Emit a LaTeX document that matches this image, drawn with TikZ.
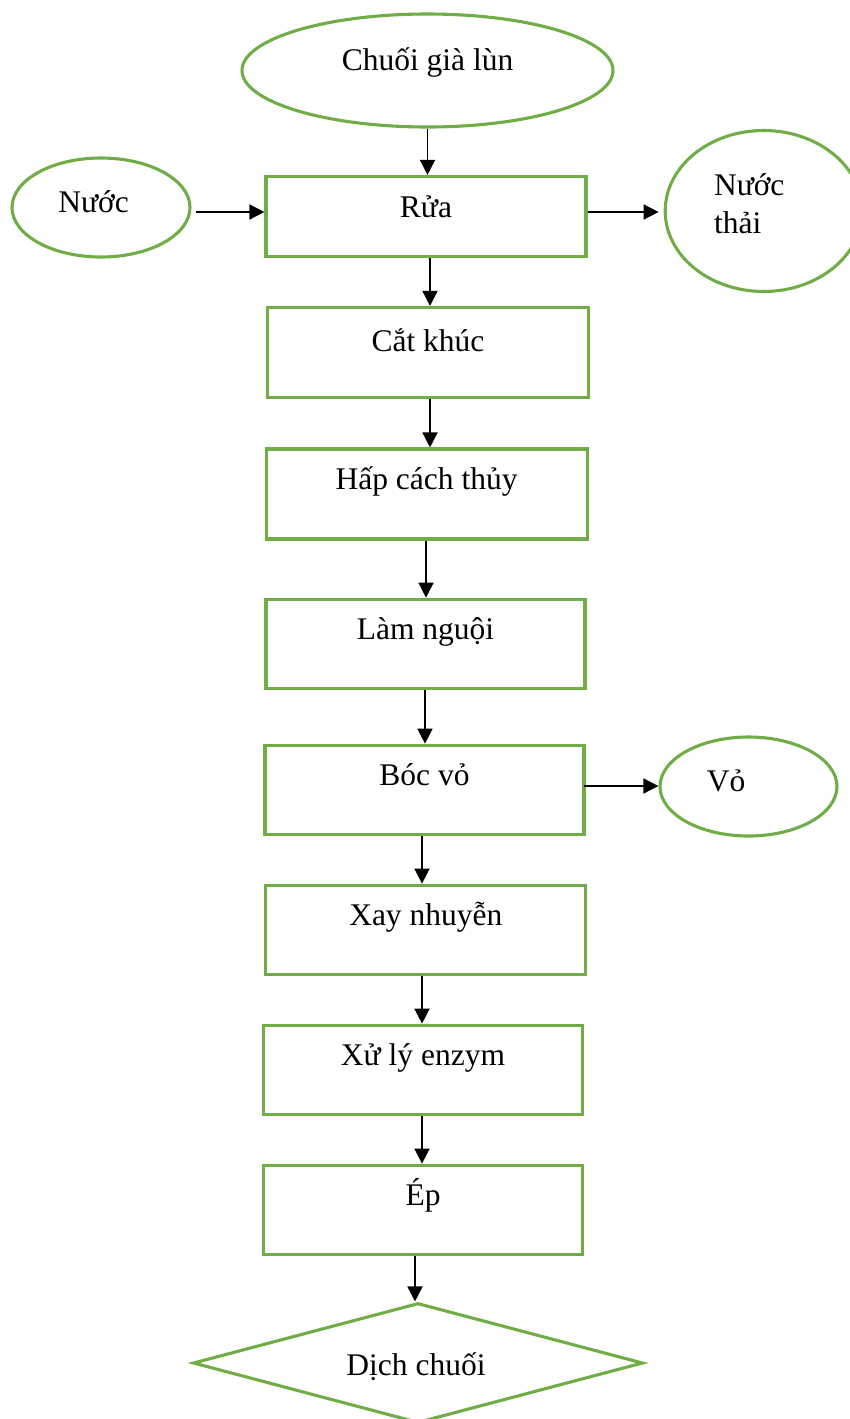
\documentclass[tikz,border=0pt]{standalone}
\usepackage{fontspec}
\setmainfont{Liberation Serif}
\usetikzlibrary{shapes.geometric,arrows.meta,calc}
\definecolor{leaf}{HTML}{70AD47}
\begin{document}
\begin{tikzpicture}[x=1pt,y=-1pt,
  every node/.style={font=\fontsize{31.5}{38.5}\selectfont, inner sep=0pt, text depth=0pt},
  outline/.style={draw=leaf, line width=3.1pt},
  stepbox/.style={outline, rectangle, minimum width=#1},
  stepbox/.default=320pt,
  oval/.style={outline, ellipse},
  arr/.style={-{Triangle[length=15pt,width=15pt]}, line width=1.5pt, black}]
\useasboundingbox (0,0) rectangle (850,1419);

% raw material, inputs and outputs
\node[oval, minimum width=371pt, minimum height=113pt, text height=0pt] (chuoi) at (427.5,70.5) {Chuối già lùn};
\node[oval, minimum width=178pt, minimum height=99pt, text height=9.6pt] (nuoc) at (101,207.5) {Nước\hspace*{15pt}};
\node[oval, minimum width=197pt, minimum height=161pt, text height=0pt] (thai) at (763.7,211)
  {\raisebox{16pt}[0pt][0pt]{\makebox[0pt][l]{\hspace*{-49.7pt}\begin{tabular}[t]{@{}l@{}}Nước\\thải\end{tabular}}}};
\node[oval, minimum width=177pt, minimum height=99pt, text height=10.4pt] (vo) at (748.5,786.5) {Vỏ\hspace*{45pt}};

% process steps
\node[stepbox, minimum height=80pt, text height=1.6pt] (rua) at (426,216.5) {Rửa};
\node[stepbox=321pt, minimum height=90pt, text height=0pt, text depth=1.6pt] (cat) at (428,352.5) {Cắt khúc};
\node[stepbox=321pt, minimum height=90pt, text height=0pt, text depth=10pt] (hap) at (426.6,494) {Hấp cách thủy};
\node[stepbox=319pt, minimum height=89pt, text height=0pt, text depth=9.4pt] (lam) at (425.5,643.7) {Làm nguội};
\node[stepbox=319pt, minimum height=89pt, text height=0pt, text depth=9.4pt] (boc) at (424.5,789.7) {Bóc vỏ};
\node[stepbox=320pt, minimum height=89pt, text height=0pt, text depth=9.4pt] (xay) at (425.8,929.7) {Xay nhuyễn};
\node[stepbox=319pt, minimum height=89pt, text height=0pt, text depth=9.4pt] (xu) at (423,1069.7) {Xử lý enzym};
\node[stepbox=319pt, minimum height=89pt, text height=0pt, text depth=9.4pt] (ep) at (423,1209.7) {Ép};

% product
\node[outline, diamond, aspect=3.75, minimum width=450pt, minimum height=120pt, text height=24pt] (dich) at (418,1363) {Dịch chuối\hspace*{4pt}};

% flow
\draw[arr] (chuoi.south) -- (chuoi.south |- rua.north);
\draw[arr] ($(nuoc.east |- 0,212)+(4,0)$) -- (rua.west |- 0,212);
\draw[arr, shorten >=5pt] (rua.east |- 0,212) -- (thai.west |- 0,212);
\draw[arr] (rua.south -| 430,0) -- (cat.north -| 430,0);
\draw[arr] (cat.south -| 430,0) -- (hap.north -| 430,0);
\draw[arr] (hap.south -| 426,0) -- (lam.north -| 426,0);
\draw[arr] (lam.south -| 425,0) -- (boc.north -| 425,0);
\draw[arr] ($(boc.east |- 0,786)+(-2,0)$) -- (vo.west |- 0,786);
\draw[arr] (boc.south -| 422,0) -- (xay.north -| 422,0);
\draw[arr] (xay.south -| 422,0) -- (xu.north -| 422,0);
\draw[arr] (xu.south -| 422,0) -- (ep.north -| 422,0);
\draw[arr] (ep.south -| 415,0) -- (dich.north -| 415,0);
\end{tikzpicture}
\end{document}
